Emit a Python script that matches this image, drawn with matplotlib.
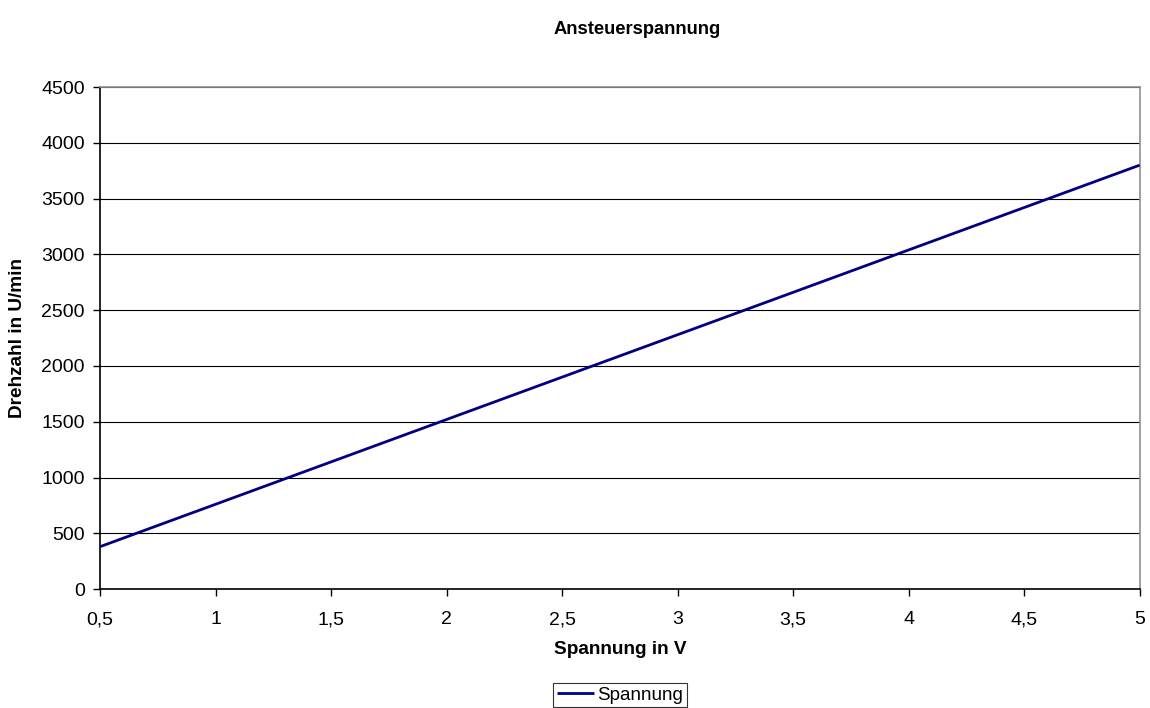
import matplotlib
matplotlib.use("Agg")
import matplotlib.pyplot as plt
from matplotlib.ticker import FuncFormatter

plt.rcParams['font.family'] = ['Liberation Sans', 'DejaVu Sans']

# Control voltage (V) and resulting speed (rpm)
spannung_v = [0.5, 1.0, 1.5, 2.0, 2.5, 3.0, 3.5, 4.0, 4.5, 5.0]
drehzahl = [380, 760, 1140, 1520, 1900, 2280, 2660, 3040, 3420, 3800]

x_ticks = [0.5, 1, 1.5, 2, 2.5, 3, 3.5, 4, 4.5, 5]
y_ticks = [0, 500, 1000, 1500, 2000, 2500, 3000, 3500, 4000, 4500]

fig = plt.figure(figsize=(11.5, 7.08), dpi=100)
ax = fig.add_axes([0.087, 0.168, 0.904, 0.709])

ax.plot(spannung_v, drehzahl, color='#000080', lw=2.0, label='Spannung',
        solid_capstyle='butt', zorder=3)

ax.set_xlim(0.5, 5)
ax.set_ylim(0, 4500)
ax.set_xticks(x_ticks)
ax.set_yticks(y_ticks)
ax.xaxis.set_major_formatter(FuncFormatter(lambda v, p: f"{v:g}".replace('.', ',')))

ax.grid(axis='y', color='black', lw=0.8, zorder=1)
ax.tick_params(direction='out', length=5, width=1, labelsize=14, pad=6)
ax.tick_params(axis='x', pad=11)

for side in ('left', 'bottom'):
    ax.spines[side].set_color('black')
    ax.spines[side].set_linewidth(1.2)
for side in ('top', 'right'):
    ax.spines[side].set_color('#909090')
    ax.spines[side].set_linewidth(1.2)

ax.set_xlabel('Spannung in V', fontsize=13.7, fontweight='bold', labelpad=9)
ax.set_ylabel('Drehzahl in U/min', fontsize=13.7, fontweight='bold', labelpad=11)

fig.text(0.554, 0.958, 'Ansteuerspannung', ha='center', va='center',
         fontsize=13.2, fontweight='bold')

leg = fig.legend(loc='upper center', bbox_to_anchor=(0.539, 0.036),
                 frameon=True, fancybox=False, fontsize=13.6,
                 handlelength=2.0, handletextpad=0.15, borderpad=0.2,
                 borderaxespad=0)
leg.get_frame().set_edgecolor('black')
leg.get_frame().set_linewidth(0.8)

fig.savefig('out.png', dpi=100)
